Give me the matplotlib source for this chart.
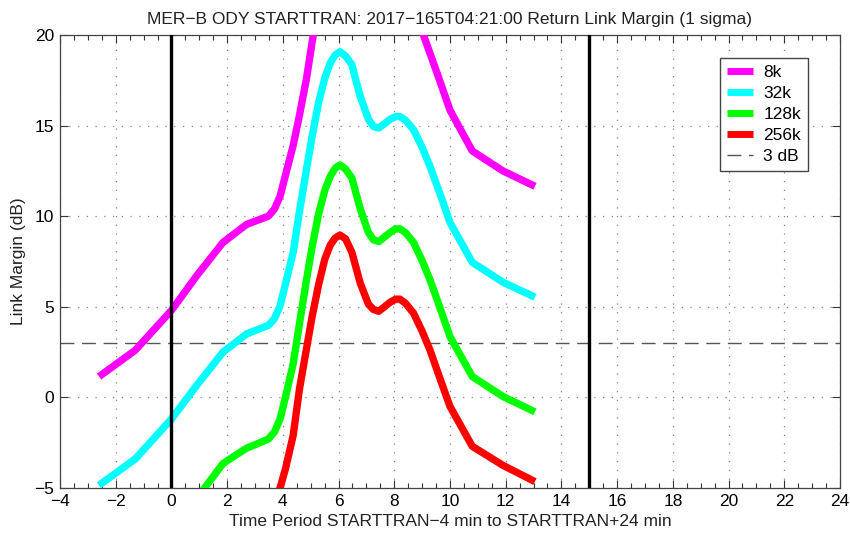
import matplotlib
matplotlib.use("Agg")
import matplotlib.pyplot as plt
from matplotlib.ticker import MultipleLocator, FuncFormatter

plt.rcParams['font.family'] = ['Liberation Sans', 'DejaVu Sans']

# Time relative to STARTTRAN (minutes)
time_min = [-2.6, -1.3, 0.0, 0.9, 1.85, 2.7, 3.1, 3.48, 3.7, 3.9, 4.1, 4.37, 4.6,
            4.85, 5.05, 5.28, 5.5, 5.7, 5.88, 6.05, 6.25, 6.48, 6.62, 6.78, 7.07,
            7.25, 7.44, 7.65, 7.85, 8.05, 8.2, 8.4, 8.69, 9.0, 9.28, 9.65, 10.0,
            10.8, 11.9, 13.05]

# Link margin (dB) per data rate
margin_8k = [1.15, 2.6, 4.8, 6.7, 8.55, 9.55, 9.78, 10.0, 10.4, 11.1, 12.3, 13.9, 15.6,
             17.6, 19.6, 21.8, 23.4, 24.4, 24.9, 25.1, 24.9, 24.4, 23.6, 22.7, 21.4,
             21.0, 20.9, 21.1, 21.4, 21.6, 21.6, 21.4, 20.9, 20.2, 19.0, 17.4, 15.85,
             13.6, 12.5, 11.65]
margin_32k = [-4.85, -3.4, -1.2, 0.65, 2.5, 3.5, 3.75, 3.97, 4.35, 5.05, 6.3, 8.0, 10.3,
              12.6, 14.4, 16.25, 17.6, 18.45, 18.9, 19.08, 18.85, 18.35, 17.5, 16.6, 15.35,
              14.95, 14.87, 15.1, 15.35, 15.5, 15.5, 15.3, 14.78, 13.8, 12.76, 11.2, 9.65,
              7.45, 6.36, 5.53]
margin_128k = [-11.1, -9.65, -7.45, -5.6, -3.65, -2.8, -2.55, -2.3, -1.9, -1.2, 0.05, 1.85, 4.1,
               6.5, 8.3, 10.1, 11.4, 12.2, 12.65, 12.83, 12.6, 12.1, 11.3, 10.4, 9.1,
               8.7, 8.6, 8.85, 9.1, 9.3, 9.3, 9.1, 8.55, 7.55, 6.5, 4.9, 3.35,
               1.15, 0.05, -0.8]
margin_256k = [-15.0, -13.5, -11.3, -9.45, -7.5, -6.65, -6.4, -6.15, -5.75, -5.0, -3.9, -2.1, 0.5,
               2.7, 4.45, 6.2, 7.6, 8.4, 8.8, 8.96, 8.75, 8.0, 7.2, 6.3, 5.15,
               4.85, 4.75, 5.0, 5.25, 5.42, 5.42, 5.2, 4.65, 3.65, 2.62, 1.0, -0.5,
               -2.7, -3.75, -4.65]

series_labels = ['8k', '32k', '128k', '256k']
series_colors = ['#ff00ff', '#00ffff', '#00ff00', '#ff0000']
threshold_db = 3
event_times = [0, 15]

fig = plt.figure(figsize=(8.5, 5.36), dpi=100)
ax = fig.add_axes([0.0706, 0.0896, 0.9176, 0.8451])

for vals, lab, col in zip([margin_8k, margin_32k, margin_128k, margin_256k],
                          series_labels, series_colors):
    ax.plot(time_min, vals, color=col, lw=5.3, label=lab, solid_capstyle='butt',
            solid_joinstyle='round', zorder=3)

ax.axhline(threshold_db, color='#555555', lw=1.0, dashes=(10, 5.5), label='3 dB', zorder=2)
for t in event_times:
    ax.axvline(t, color='black', lw=2.4, zorder=4)

ax.set_xlim(-4, 24)
ax.set_ylim(-5, 20)
ax.xaxis.set_major_locator(MultipleLocator(2))
ax.xaxis.set_minor_locator(MultipleLocator(0.5))
ax.yaxis.set_major_locator(MultipleLocator(5))
ax.tick_params(which='both', direction='in', top=True, right=True, labelsize=12.5,
               color='#333333', pad=4)
ax.tick_params(which='major', length=6, width=0.8)
ax.tick_params(axis='x', which='minor', length=3.5, width=0.8)
ax.grid(True, which='major', color='#888888', linestyle=(0, (1, 6)), lw=0.9)
for sp in ax.spines.values():
    sp.set_color('#444444')
    sp.set_linewidth(0.9)

minus_fmt = FuncFormatter(lambda v, p: f"{int(round(v))}".replace('-', '\u2212'))
ax.xaxis.set_major_formatter(minus_fmt)
ax.yaxis.set_major_formatter(minus_fmt)

ax.set_title('MER\u2212B ODY STARTTRAN: 2017\u2212165T04:21:00 Return Link Margin (1 sigma)',
             fontsize=12.5, pad=8, color='#222222')
ax.set_xlabel('Time Period STARTTRAN\u22124 min to STARTTRAN+24 min', fontsize=12.5,
              labelpad=4, color='#222222')
ax.set_ylabel('Link Margin (dB)', fontsize=12.5, labelpad=6, color='#222222')

leg = ax.legend(loc='upper right', bbox_to_anchor=(0.959, 0.949), borderaxespad=0,
                fontsize=12.5, handlelength=1.5, handletextpad=0.6, borderpad=0.4,
                labelspacing=0.33, fancybox=False, framealpha=1, edgecolor='#444444')
leg.get_frame().set_linewidth(1.0)
for h in leg.get_lines()[:4]:
    h.set_linewidth(5)

fig.savefig('out.png', dpi=100)
